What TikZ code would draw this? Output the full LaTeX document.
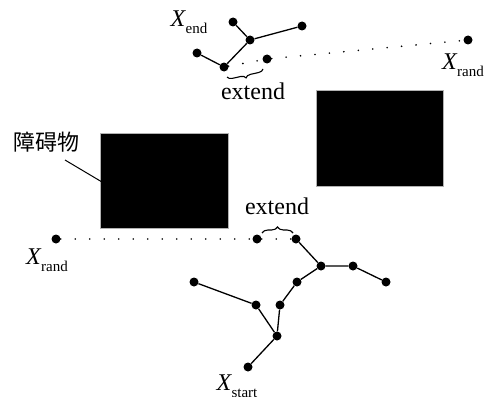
\documentclass[tikz,border=0pt]{standalone}
\usepackage{fontspec}
\setmainfont{Liberation Serif}
\newfontfamily\cjk{Noto Sans CJK SC}
\usetikzlibrary{decorations.pathreplacing}
\newcommand{\Xsub}[1]{\textit{X}\kern-0.5pt\raisebox{-0.3em}{\fontsize{15}{15}\selectfont #1}}
\tikzset{
  pt/.style={circle,fill=black,inner sep=0pt,minimum size=9pt},
  edge/.style={line width=1.3pt},
  dots/.style={line width=1.8pt,dash pattern=on 0pt off 14.5pt,line cap=round},
  obstacle/.style={fill=black,draw=gray!60,line width=0.8pt},
  lab/.style={font=\fontsize{24}{24}\selectfont,inner sep=0pt},
  brc/.style={decorate,line width=1.1pt}
}
\begin{document}
\begin{tikzpicture}[x=1pt,y=-1pt]
\useasboundingbox (0,0) rectangle (484,396);
% obstacles
\draw[obstacle] (100,133) rectangle (228,228);
\draw[obstacle] (316,90) rectangle (443,186);
\node[lab,font=\cjk\fontsize{22}{22}\selectfont] (obs) at (46,142) {障碍物};
\coordinate (obsend) at (102,182);
\draw[line width=1pt] (65,160) -- (obsend);

% upper tree (grown from the goal)
\node[pt] (a) at (233,22) {};
\node[pt] (b) at (302,26) {};
\node[pt] (c) at (250,40) {};
\node[pt] (d) at (197,53) {};
\node[pt] (e) at (224,67) {};
\node[pt] (f) at (267,59) {};
\node[pt] (ra) at (468,40) {};
\draw[edge] (a) -- (c) -- (b);
\draw[edge] (c) -- (e) -- (d);
\draw[dots] (e) -- (f);
\draw[dots] (f) -- (ra);
\draw[brc,decoration={brace,amplitude=5pt}] (263,69) -- (227,77);
\node[lab] (xend) at (189,22) {\Xsub{end}};
\node[lab] (xra) at (463,65) {\Xsub{rand}};
\node[lab] (ext1) at (253,91) {extend};

% lower tree (grown from the start)
\node[pt] (rb) at (56,239) {};
\node[pt] (nw) at (257,239) {};
\node[pt] (g) at (296,239) {};
\node[pt] (h) at (321,266) {};
\node[pt] (i) at (353,266) {};
\node[pt] (j) at (386,282) {};
\node[pt] (k) at (297,282) {};
\node[pt] (l) at (280,305) {};
\node[pt] (m) at (256,305) {};
\node[pt] (n) at (194,282) {};
\node[pt] (o) at (277,336) {};
\node[pt] (p) at (248,367) {};
\draw[dots] (rb) -- (nw);
\draw[dots] (nw) -- (g);
\draw[edge] (g) -- (h) -- (i) -- (j);
\draw[edge] (h) -- (k) -- (l) -- (o) -- (p);
\draw[edge] (n) -- (m) -- (o);
\draw[brc,decoration={brace,amplitude=6pt}] (262,233) -- (293,233);
\node[lab] (ext2) at (277,206) {extend};
\node[lab] (xrb) at (47,260) {\Xsub{rand}};
\node[lab] (xst) at (237,386) {\Xsub{start}};
\end{tikzpicture}
\end{document}
